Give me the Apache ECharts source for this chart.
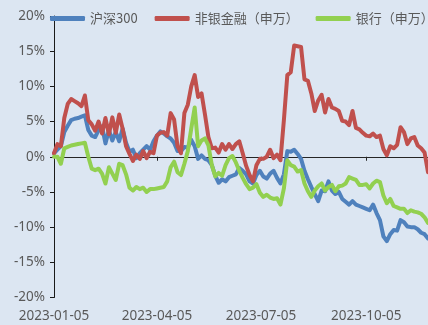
<!DOCTYPE html>
<html>
<head>
<meta charset="utf-8">
<script src="https://cdn.jsdelivr.net/npm/echarts@6/dist/echarts.min.js"></script>
<style>
  html, body { margin: 0; padding: 0; background: #DCE6F2; }
  #chart { width: 428px; height: 325px; }
</style>
</head>
<body>
<div id="chart"></div>
<script>
// Cumulative returns (%) since 2023-01-05
const dates = [
  '2023-01-05','2023-01-08','2023-01-11','2023-01-14','2023-01-17','2023-01-20','2023-01-23','2023-01-26','2023-01-29',
  '2023-02-01','2023-02-04','2023-02-07','2023-02-10','2023-02-13','2023-02-16','2023-02-19','2023-02-22','2023-02-25','2023-02-28',
  '2023-03-03','2023-03-06','2023-03-09','2023-03-12','2023-03-15','2023-03-18','2023-03-21','2023-03-24','2023-03-27','2023-03-30',
  '2023-04-02','2023-04-05','2023-04-08','2023-04-11','2023-04-14','2023-04-17','2023-04-20','2023-04-23','2023-04-26','2023-04-29',
  '2023-05-02','2023-05-05','2023-05-08','2023-05-11','2023-05-14','2023-05-17','2023-05-20','2023-05-23','2023-05-26','2023-05-29',
  '2023-06-01','2023-06-04','2023-06-07','2023-06-10','2023-06-13','2023-06-16','2023-06-19','2023-06-22','2023-06-25','2023-06-28',
  '2023-07-01','2023-07-04','2023-07-07','2023-07-10','2023-07-13','2023-07-16','2023-07-19','2023-07-22','2023-07-25','2023-07-28','2023-07-31',
  '2023-08-03','2023-08-06','2023-08-09','2023-08-12','2023-08-15','2023-08-18','2023-08-21','2023-08-24','2023-08-27','2023-08-30',
  '2023-09-02','2023-09-05','2023-09-08','2023-09-11','2023-09-14','2023-09-17','2023-09-20','2023-09-23','2023-09-26','2023-09-29',
  '2023-10-02','2023-10-05','2023-10-08','2023-10-11','2023-10-14','2023-10-17','2023-10-20','2023-10-23','2023-10-26','2023-10-29',
  '2023-11-01','2023-11-04','2023-11-07','2023-11-10','2023-11-13','2023-11-16','2023-11-19','2023-11-22','2023-11-25','2023-11-28'
];

const hs300 = [
  0.5, 1.0, 1.5, 3.5, 4.4, 5.2, 5.4, 5.5, 5.7, 5.9,
  3.8, 3.0, 2.8, 3.8, 4.3, 1.9, 3.8, 2.3, 3.5, 2.2,
  4.0, 2.0, 0.7, 1.0, -0.2, 0.5, 1.0, 1.5, 1.0, 2.2,
  3.0, 3.6, 3.3, 2.9, 2.6, 2.0, 0.8, 0.8, 1.4, 1.3,
  2.4, 1.5, -0.3, 0.2, -0.3, -0.5, -1.2, -2.7, -3.7, -3.2,
  -3.5, -2.9, -2.7, -2.5, -1.6, -2.0, -2.5, -3.5, -3.8, -2.6,
  -2.0, -2.8, -3.1, -2.4, -2.0, -3.0, -3.8, -2.5, 0.8, 0.7,
  1.0, 0.4, -0.3, -2.0, -3.2, -4.3, -5.3, -6.3, -4.8, -4.9,
  -3.5, -4.8, -5.3, -5.0, -6.0, -6.4, -6.8, -6.3, -6.8, -7.0,
  -7.2, -7.4, -7.6, -6.8, -8.0, -9.0, -11.3, -12.0, -11.0, -10.4,
  -10.5, -9.0, -9.3, -9.9, -10.0, -10.0, -10.3, -10.8, -11.0, -11.6
];

const nonBank = [
  0.5, 1.8, 1.5, 5.5, 7.5, 8.2, 7.9, 7.6, 7.2, 8.7,
  5.2, 4.6, 3.7, 5.0, 3.3, 5.5, 3.2, 5.6, 3.4, 6.0,
  4.0, 1.5, 0.4, -0.6, 0.3, -0.3, 0.8, -0.2, 0.7, 0.5,
  3.0, 3.4, 3.5, 3.0, 6.2, 5.3, 1.5, 0.5, 6.2, 7.4,
  10.0, 11.6, 8.5, 9.0, 6.0, 2.8, 1.2, 1.3, 0.6, 1.8,
  1.0, 1.8, 1.1, 1.8, 2.2, 0.5, -1.3, -2.6, -3.5, -1.2,
  -0.3, -0.3, 0.0, 1.0, -0.2, 0.3, -0.5, 5.2, 11.6, 12.0,
  15.8, 15.7, 15.6, 11.0, 10.8, 9.0, 6.5, 8.0, 8.8, 6.3,
  8.2, 7.0, 6.8, 6.5, 5.1, 5.0, 4.5, 6.5, 4.1, 3.9,
  3.4, 3.0, 2.9, 3.3, 2.8, 3.0, 1.1, 0.2, 1.5, 1.2,
  1.7, 4.2, 3.5, 1.8, 2.6, 2.8, 1.6, 1.2, 0.6, -2.2
];

const bank = [
  0.0, 0.0, -1.0, 1.2, 1.4, 1.6, 1.7, 1.8, 1.9, 2.0,
  0.0, -1.7, -1.9, -1.7, -2.4, -3.8, -1.5, -2.4, -3.3, -1.0,
  -1.2, -2.5, -4.4, -4.8, -4.3, -4.6, -4.4, -5.0, -4.6, -4.6,
  -4.5, -4.4, -4.3, -3.5, -1.5, -0.7, -2.2, -2.6, -1.0, 0.8,
  4.0, 7.0, 1.5, 2.3, 2.6, 1.6, -1.2, -2.8, -2.3, -2.7,
  -1.2, -0.2, 0.1, -0.8, -2.0, -3.0, -3.9, -4.6, -4.4, -3.9,
  -5.1, -5.7, -5.4, -5.8, -6.0, -5.9, -6.8, -4.5, -0.5, -1.2,
  -1.4, -2.1, -1.9, -3.8, -4.9, -5.7, -4.8, -4.2, -3.8, -4.8,
  -4.3, -4.0, -4.9, -4.2, -4.1, -3.8, -2.9, -3.1, -3.3, -4.0,
  -4.0, -3.9, -4.5, -3.8, -3.4, -3.6, -5.5, -6.6, -6.0, -7.0,
  -7.2, -7.4, -7.4, -8.0, -7.6, -7.8, -7.9, -8.1, -8.6, -9.4
];

const seriesNames = ['沪深300', '非银金融（申万）', '银行（申万）'];
const seriesColors = ['#4F81BD', '#C0504D', '#92D050'];
const xTickDates = ['2023-01-05', '2023-04-05', '2023-07-05', '2023-10-05'];
const xRange = ['2023-01-05', '2023-11-28'];

// dates are placed on a numeric (millisecond) axis so that ticks can sit on exact days
function toTime(s) {
  const p = s.split('-').map(Number);
  return Date.UTC(p[0], p[1] - 1, p[2]);
}
function pad(n) { return n < 10 ? '0' + n : '' + n; }
function fmtDate(v) {
  const d = new Date(v);
  return d.getUTCFullYear() + '-' + pad(d.getUTCMonth() + 1) + '-' + pad(d.getUTCDate());
}

const tickTimes = xTickDates.map(toTime);
const textColor = '#595959';
const latinFont = '"Noto Sans", "Noto Sans CJK SC", sans-serif';

const chart = echarts.init(document.getElementById('chart'), null, { renderer: 'canvas' });

const lineSeries = [hs300, nonBank, bank].map((vals, i) => ({
  name: seriesNames[i],
  type: 'line',
  xAxisIndex: 0,
  yAxisIndex: 0,
  data: dates.map((d, j) => [toTime(d), vals[j]]),
  showSymbol: false,
  symbol: 'none',
  smooth: false,
  z: 2 + i,
  lineStyle: { color: seriesColors[i], width: 4, cap: 'round', join: 'round' },
  itemStyle: { color: seriesColors[i] },
  emphasis: { disabled: true },
  animation: false
}));

const xBase = {
  type: 'value',
  position: 'bottom',
  min: toTime(xRange[0]),
  max: toTime(xRange[1]),
  scale: true,
  splitLine: { show: false }
};

chart.setOption({
  backgroundColor: '#DCE6F2',
  animation: false,
  legend: {
    data: seriesNames,
    left: 45,
    top: 7,
    width: 470,
    icon: 'roundRect',
    itemWidth: 35,
    itemHeight: 5,
    itemGap: 17,
    textStyle: { color: textColor, fontSize: 13, fontFamily: '"Noto Sans CJK SC", "Noto Sans", sans-serif' },
    z: 10
  },
  grid: { left: 54, right: 0, top: 16, bottom: 27.5, containLabel: false },
  xAxis: [
    Object.assign({}, xBase, {
      axisLine: { show: false, onZero: false },
      axisTick: { show: false },
      axisLabel: {
        customValues: tickTimes,
        formatter: fmtDate,
        color: textColor,
        fontSize: 13.5,
        fontFamily: latinFont,
        margin: 12,
        showMinLabel: true,
        showMaxLabel: true,
        hideOverlap: false
      }
    }),
    Object.assign({}, xBase, {
      axisLine: { show: true, onZero: true, lineStyle: { color: '#262626', width: 1 } },
      axisTick: { show: true, customValues: tickTimes, length: 4, lineStyle: { color: '#262626' } },
      axisLabel: { show: false }
    })
  ],
  yAxis: {
    type: 'value',
    min: -20,
    max: 20,
    interval: 5,
    axisLine: { show: true, onZero: false, lineStyle: { color: '#1a1a1a', width: 1 } },
    axisTick: { show: true, length: 4, lineStyle: { color: '#1a1a1a' } },
    splitLine: { show: false },
    axisLabel: {
      formatter: '{value}%',
      color: textColor,
      fontSize: 13.5,
      fontFamily: latinFont,
      margin: 9
    }
  },
  series: lineSeries
});
</script>
</body>
</html>
